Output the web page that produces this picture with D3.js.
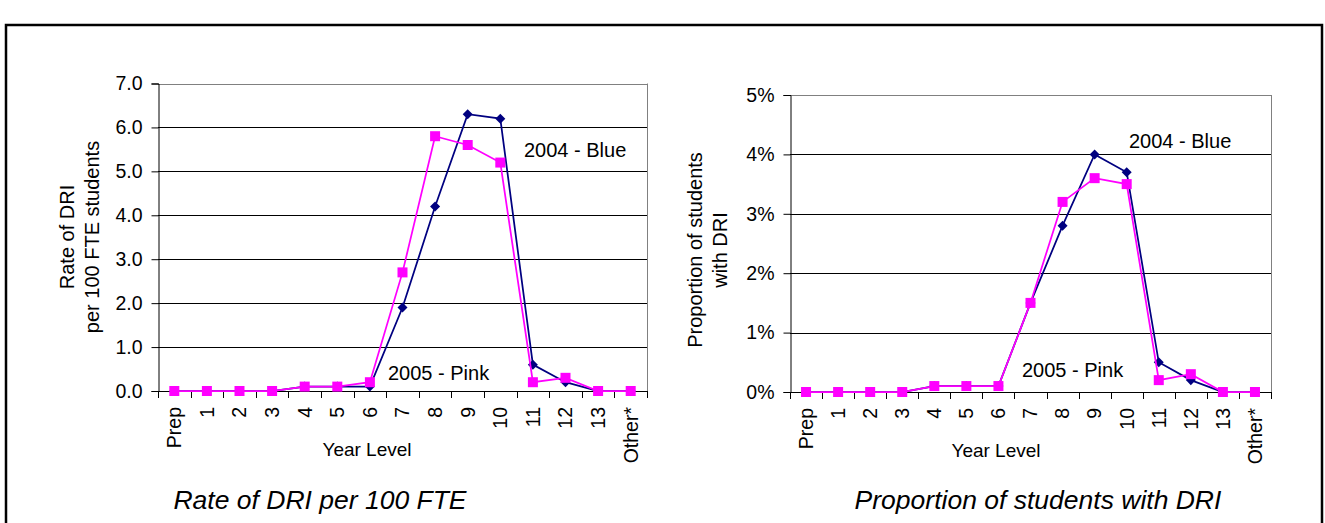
<!DOCTYPE html>
<html>
<head>
<meta charset="utf-8">
<script src="https://cdn.jsdelivr.net/npm/d3@7"></script>
<style>
  html, body { margin: 0; padding: 0; background: #fff; }
  svg { display: block; }
  text { font-family: "Liberation Sans", Arial, sans-serif; fill: #000; }
</style>
</head>
<body>
<svg id="chart" width="1325" height="523"></svg>
<script>
// ---- data ----
const categories = ["Prep", "1", "2", "3", "4", "5", "6", "7", "8", "9", "10", "11", "12", "13", "Other*"];
const rate2004 = [0, 0, 0, 0, 0.1, 0.1, 0.1, 1.9, 4.2, 6.3, 6.2, 0.6, 0.2, 0, 0];
const rate2005 = [0, 0, 0, 0, 0.1, 0.1, 0.2, 2.7, 5.8, 5.6, 5.2, 0.2, 0.3, 0, 0];
const prop2004 = [0, 0, 0, 0, 0.1, 0.1, 0.1, 1.5, 2.8, 4.0, 3.7, 0.5, 0.2, 0, 0]; // percent
const prop2005 = [0, 0, 0, 0, 0.1, 0.1, 0.1, 1.5, 3.2, 3.6, 3.5, 0.2, 0.3, 0, 0]; // percent
const rateTicks = [0, 1, 2, 3, 4, 5, 6, 7];
const propTicks = [0, 1, 2, 3, 4, 5];

const BLUE = "#000080", PINK = "#FF00FF";
const svg = d3.select("#chart");

// outer frame
svg.append("path")
  .attr("d", "M6,523 V25 H1322 V523")
  .attr("fill", "none").attr("stroke", "#000").attr("stroke-width", 2.5);

function drawChart(cfg) {
  const g = svg.append("g");
  const x = d3.scaleBand().domain(categories).range([cfg.x0, cfg.x1]).padding(0);
  const y = d3.scaleLinear().domain([0, cfg.max]).range([cfg.y0, cfg.y1]);
  const cx = c => x(c) + x.bandwidth() / 2;

  // gridlines
  g.selectAll(".grid").data(cfg.ticks.filter(t => t > 0)).join("line")
    .attr("x1", cfg.x0).attr("x2", cfg.x1)
    .attr("y1", d => Math.round(y(d)) + 0.5).attr("y2", d => Math.round(y(d)) + 0.5)
    .attr("stroke", d => d === cfg.max ? "#808080" : "#000").attr("stroke-width", 1);
  // right plot border
  g.append("line").attr("x1", Math.round(cfg.x1) + 0.5).attr("x2", Math.round(cfg.x1) + 0.5)
    .attr("y1", cfg.y0).attr("y2", cfg.y1).attr("stroke", "#808080");

  // y axis
  const yAxis = d3.axisLeft(y).tickValues(cfg.ticks).tickSize(7).tickFormat(cfg.fmt);
  const ya = g.append("g").attr("transform", `translate(${Math.round(cfg.x0) + 0.5},0)`).call(yAxis);
  ya.select(".domain").attr("stroke", "#000");
  ya.selectAll(".tick line").attr("stroke", "#000");
  ya.selectAll(".tick text").attr("font-size", 19.5).attr("x", -16)
    .style("font-family", '"Liberation Sans", Arial, sans-serif').attr("fill", "#000");

  // x axis: band boundaries ticks
  const xa = g.append("g");
  xa.append("line").attr("x1", cfg.x0).attr("x2", cfg.x1)
    .attr("y1", Math.round(cfg.y0) + 0.5).attr("y2", Math.round(cfg.y0) + 0.5).attr("stroke", "#000");
  const bounds = categories.map(c => x(c)).concat([cfg.x1]);
  xa.selectAll(".bt").data(bounds).join("line")
    .attr("x1", d => Math.round(d) + 0.5).attr("x2", d => Math.round(d) + 0.5)
    .attr("y1", cfg.y0).attr("y2", cfg.y0 + 7).attr("stroke", "#000");
  xa.selectAll(".xl").data(categories).join("text")
    .attr("transform", d => `translate(${cx(d)},${cfg.y0 + 16}) rotate(-90)`)
    .attr("text-anchor", "end").attr("dy", "0.35em").attr("font-size", 19.5)
    .text(d => d);

  // lines + markers
  const line = d3.line().x((d, i) => cx(categories[i])).y(d => y(d));
  g.append("path").datum(cfg.s1).attr("d", line).attr("fill", "none")
    .attr("stroke", BLUE).attr("stroke-width", 1.75);
  g.selectAll(".m1").data(cfg.s1).join("path")
    .attr("d", d3.symbol(d3.symbolDiamond2, 64))
    .attr("transform", (d, i) => `translate(${cx(categories[i])},${y(d)})`)
    .attr("fill", BLUE);
  g.append("path").datum(cfg.s2).attr("d", line).attr("fill", "none")
    .attr("stroke", PINK).attr("stroke-width", 1.75);
  g.selectAll(".m2").data(cfg.s2).join("rect")
    .attr("x", (d, i) => cx(categories[i]) - 5).attr("y", d => y(d) - 5)
    .attr("width", 10).attr("height", 10).attr("fill", PINK);

  // annotations
  g.append("text").attr("x", cfg.blueLbl[0]).attr("y", cfg.blueLbl[1]).attr("font-size", 20).text("2004 - Blue");
  g.append("text").attr("x", cfg.pinkLbl[0]).attr("y", cfg.pinkLbl[1]).attr("font-size", 20).text("2005 - Pink");

  // axis titles
  g.append("text").attr("x", cfg.xTitle[0]).attr("y", cfg.xTitle[1]).attr("text-anchor", "middle")
    .attr("font-size", 19).text("Year Level");
  cfg.yTitle.forEach((t, i) => {
    g.append("text")
      .attr("transform", `translate(${cfg.yTitlePos[0] + i * 25},${cfg.yTitlePos[1]}) rotate(-90)`)
      .attr("text-anchor", "middle").attr("font-size", 20).text(t);
  });
  // caption
  g.append("text").attr("x", cfg.caption[0]).attr("y", cfg.caption[1]).attr("text-anchor", "middle")
    .attr("font-size", 26.5).attr("font-style", "italic").text(cfg.captionText);
}

drawChart({
  x0: 158, x1: 647, y0: 391, y1: 83.5, max: 7, ticks: rateTicks,
  fmt: d3.format(".1f"), s1: rate2004, s2: rate2005,
  blueLbl: [524, 157], pinkLbl: [388, 380],
  xTitle: [367, 456], yTitle: ["Rate of DRI", "per 100 FTE students"], yTitlePos: [74, 237],
  caption: [320, 509], captionText: "Rate of DRI per 100 FTE"
});
drawChart({
  x0: 790, x1: 1271, y0: 392, y1: 95, max: 5, ticks: propTicks,
  fmt: d => d + "%", s1: prop2004, s2: prop2005,
  blueLbl: [1129, 148], pinkLbl: [1022, 377],
  xTitle: [996, 457], yTitle: ["Proportion of students", "with DRI"], yTitlePos: [702, 250],
  caption: [1038, 509], captionText: "Proportion of students with DRI"
});
</script>
</body>
</html>
